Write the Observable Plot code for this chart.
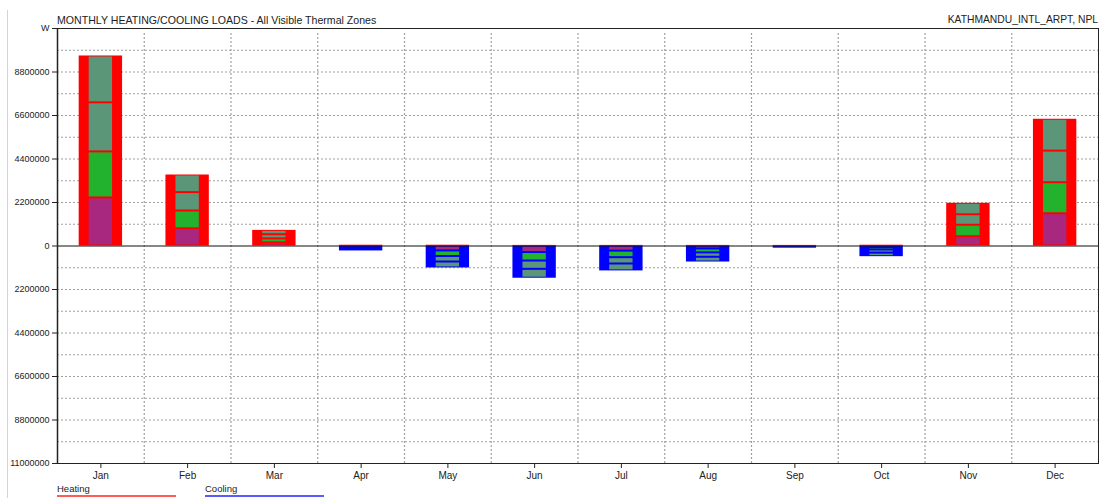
<!DOCTYPE html>
<html>
<head>
<meta charset="utf-8">
<script src="https://cdn.jsdelivr.net/npm/d3@7"></script>
<script src="https://cdn.jsdelivr.net/npm/@observablehq/plot@0.6"></script>
<style>
  body { margin: 0; background: #fff; font-family: "Liberation Sans", Arial, sans-serif; }
  #wrap { position: relative; width: 1108px; height: 498px; overflow: hidden; }
  .lbl { position: absolute; font-size: 10px; color: #222; white-space: nowrap; line-height: 12px; }
  #edge { position: absolute; left: 7px; top: 10px; width: 1px; height: 488px; background: #d4d4d4; }
  .legline { position: absolute; height: 2px; }
</style>
</head>
<body>
<div id="wrap">
  <div id="edge"></div>
  <div id="chart"></div>
  <div class="lbl" id="title" style="left:57px; top:14px; font-size:10.6px;">MONTHLY HEATING/COOLING LOADS - All Visible Thermal Zones</div>
  <div class="lbl" id="site" style="right:10px; top:14px; font-size:10.3px;">KATHMANDU_INTL_ARPT, NPL</div>
  <div class="lbl" style="left:57px; top:483px; font-size:9.5px;">Heating</div>
  <div class="legline" style="left:57px; width:119px; top:495px; background:#ff5a5a;"></div>
  <div class="lbl" style="left:205px; top:483px; font-size:9.5px;">Cooling</div>
  <div class="legline" style="left:205px; width:119px; top:495px; background:#5a5aff;"></div>
</div>
<script>
const months = ["Jan","Feb","Mar","Apr","May","Jun","Jul","Aug","Sep","Oct","Nov","Dec"];
const zoneNames = ["Zone 1","Zone 2","Zone 3","Zone 4"];
const zoneColors = ["#a8277f","#22b22e","#5b9678","#5b9678"];

// Total monthly loads (W): heating positive, cooling negative
const heatTotal = [9610000, 3590000, 790000, 40000, 40000, 30000, 30000, 30000, 30000, 40000, 2160000, 6410000];
const coolTotal = [0, 0, 0, -250000, -1110000, -1630000, -1260000, -810000, -110000, -540000, 0, 0];

// Heating load per zone (W)
const heatZone1 = [2430000, 870000, 160000, 0, 0, 0, 0, 0, 0, 0, 470000, 1630000];
const heatZone2 = [2330000, 900000, 200000, 0, 0, 0, 0, 0, 0, 0, 580000, 1570000];
const heatZone3 = [2480000, 930000, 210000, 0, 0, 0, 0, 0, 0, 0, 530000, 1600000];
const heatZone4 = [2370000, 890000, 220000, 0, 0, 0, 0, 0, 0, 0, 580000, 1610000];

// Cooling load per zone (W)
const coolZone1 = [0, 0, 0, -50000, -250000, -330000, -260000, -150000, -20000, -80000, 0, 0];
const coolZone2 = [0, 0, 0, -60000, -280000, -430000, -330000, -200000, -30000, -120000, 0, 0];
const coolZone3 = [0, 0, 0, -70000, -280000, -420000, -320000, -220000, -30000, -160000, 0, 0];
const coolZone4 = [0, 0, 0, -70000, -300000, -450000, -350000, -240000, -30000, -180000, 0, 0];

const yTicks = [-11000000, -8800000, -6600000, -4400000, -2200000, 0, 2200000, 4400000, 6600000, 8800000, 11000000];
const yGrid = [-9900000, -8800000, -7700000, -6600000, -5500000, -4400000, -3300000, -2200000, -1100000,
               1100000, 2200000, 3300000, 4400000, 5500000, 6600000, 7700000, 8800000, 9900000];

const W = 1108, H = 498, ML = 57, MR = 10, MT = 28, MB = 35;
const step = (W - ML - MR) / months.length;

const heatZones = [heatZone1, heatZone2, heatZone3, heatZone4];
const coolZones = [coolZone1, coolZone2, coolZone3, coolZone4];
const segRows = [];
for (const zs of [heatZones, coolZones]) {
  zs.forEach((arr, z) => arr.forEach((v, i) => {
    if (v !== 0) segRows.push({month: months[i], zone: zoneNames[z], value: v});
  }));
}
const idx = d3.range(months.length);

const chart = Plot.plot({
  width: W, height: H,
  marginLeft: ML, marginRight: MR, marginTop: MT, marginBottom: MB,
  style: {fontFamily: "'Liberation Sans', Arial, sans-serif", fontSize: "10px", color: "#222", background: "transparent"},
  x: {domain: months, paddingInner: 0.5, paddingOuter: 0.25, round: false, label: null},
  y: {domain: [-11000000, 11000000], label: null},
  color: {domain: zoneNames, range: zoneColors},
  marks: [
    Plot.gridY(yGrid, {stroke: "#a0a0a0", strokeOpacity: 1, strokeWidth: 1.2, strokeDasharray: "2,2"}),
    Plot.ruleX(months.slice(0, 11), {x: d => d, dx: step / 2, y1: -11000000, y2: 11000000, insetBottom: -5,
      stroke: "#a0a0a0", strokeWidth: 1.2, strokeDasharray: "2,2"}),
    Plot.barY(idx, {x: i => months[i], y1: 0, y2: i => heatTotal[i], fill: "#ff0000"}),
    Plot.barY(idx.filter(i => coolTotal[i] !== 0), {x: i => months[i], y1: 0, y2: i => coolTotal[i], fill: "#0000ff"}),
    Plot.barY(segRows, Plot.stackY({x: "month", y: "value", fill: "zone", order: zoneNames,
      insetLeft: 10, insetRight: 10, insetTop: 1, insetBottom: 1})),
    Plot.ruleY([0], {stroke: "#111", strokeWidth: 1.2}),
    Plot.frame({stroke: "#222"}),
    Plot.ruleX([months[0]], {x: d => d, dx: -step / 2, stroke: "#222", strokeWidth: 1.5}),
    Plot.axisY(yTicks, {tickSize: 5, tickPadding: 3, fontSize: 9, tickFormat: d => d === 11000000 ? "W" : String(Math.abs(d)), fill: "#222"}),
    Plot.axisX({tickSize: 5, tickPadding: 3, fill: "#222"})
  ]
});
document.getElementById("chart").appendChild(chart);
</script>
</body>
</html>
